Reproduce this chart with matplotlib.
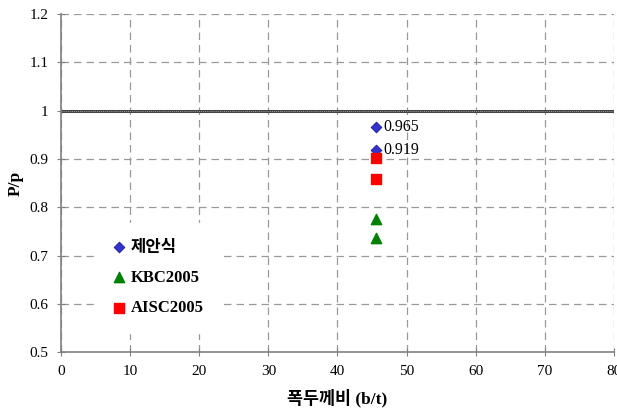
import matplotlib
matplotlib.use("Agg")
import matplotlib.pyplot as plt

plt.rcParams['font.family'] = ['Liberation Serif', 'Noto Sans CJK KR']

# data
bt = [45.5, 45.5]
proposed = [0.965, 0.919]
kbc = [0.775, 0.736]
aisc = [0.902, 0.858]
proposed_labels = ['0.965', '0.919']

fig = plt.figure(figsize=(6.17, 4.09), dpi=100)
ax = fig.add_axes([0.099, 0.139, 0.896, 0.827])

ax.set_xlim(0, 80)
ax.set_ylim(0.5, 1.2)
ax.set_xticks(range(0, 81, 10))
ax.set_yticks([0.5, 0.6, 0.7, 0.8, 0.9, 1.0, 1.1, 1.2])
ax.set_yticklabels(['0.5', '0.6', '0.7', '0.8', '0.9', '1', '1.1', '1.2'])

ax.grid(True, linestyle=(0, (6, 4)), color='#999999', linewidth=0.9)
ax.set_axisbelow(True)
for s in ['top', 'right']:
    ax.spines[s].set_visible(False)
for s in ['left', 'bottom']:
    ax.spines[s].set_color('#808080')
    ax.spines[s].set_linewidth(1.2)
ax.tick_params(direction='inout', length=6, color='#808080', labelsize=11, pad=6)

ax.axhline(1.0, color='#444444', linewidth=2.2, zorder=2)
ax.axhline(1.0, color='#bbbbbb', linewidth=0.6, linestyle=(0, (1, 1.5)), zorder=2)

ax.scatter(bt, proposed, marker='D', s=30, color='#3333cc', edgecolors='#1a1a99',
           linewidths=0.6, label='제안식', zorder=3)
ax.scatter(bt, kbc, marker='^', s=55, color='#008000', label='KBC2005', zorder=3)
ax.scatter(bt, aisc, marker='s', s=55, color='#ff0000', label='AISC2005', zorder=3)

for x, y, t in zip(bt, proposed, proposed_labels):
    ax.text(x + 1.1, y, t, fontsize=11.5, va='center', ha='left')

leg = ax.legend(loc='center left', bbox_to_anchor=(0.045, 0.22), frameon=True,
                framealpha=1, edgecolor='white', fancybox=False, handletextpad=0.2,
                labelspacing=0.85, borderpad=1.0, handlelength=1.0,
                prop={'weight': 'bold', 'size': 12})
leg.set_zorder(4)

ax.set_xlabel('폭두께비 (b/t)', fontsize=12.5, fontweight='bold', labelpad=8)
ax.set_ylabel('P/p', fontsize=12.5, fontweight='bold', labelpad=4)

fig.savefig('out.png', dpi=100)
